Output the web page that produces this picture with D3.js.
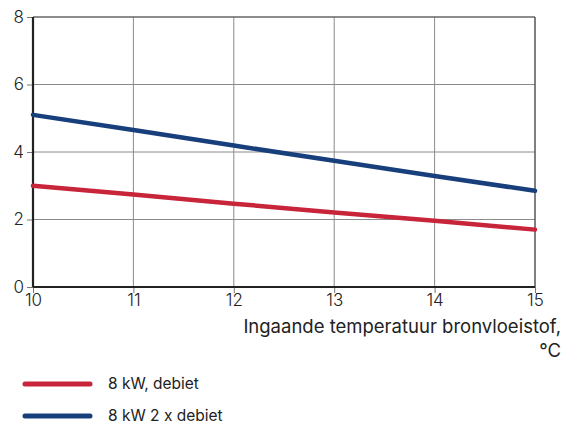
<!DOCTYPE html>
<html>
<head>
<meta charset="utf-8">
<script src="https://cdn.jsdelivr.net/npm/d3@7"></script>
<style>
  body { margin: 0; background: #fff; }
  #chart { width: 569px; height: 427px; }
  text { font-family: Inter, Roboto, sans-serif; fill: #222; }
</style>
</head>
<body>
<div id="chart"></div>
<script>
//Datos
const temps = [10, 11, 12, 13, 14, 15];
const debiet = [3.0, 2.74, 2.47, 2.21, 1.96, 1.7];
const debiet2x = [5.1, 4.65, 4.19, 3.74, 3.29, 2.85];
const xTicks = [10, 11, 12, 13, 14, 15];
const yTicks = [0, 2, 4, 6, 8];
const seriesNames = ['8 kW, debiet', '8 kW 2 x debiet'];

const COLOR_RED = '#c8243a',
COLOR_BLUE = '#173f7c';

let margin = {top: 17, right: 34, bottom: 140, left: 33},
    width = 569 - margin.left - margin.right,
    height = 427 - margin.top - margin.bottom;

let svg = d3.select('#chart')
    .append('svg')
        .attr('width', 569)
        .attr('height', 427)
    .append('g')
        .attr('transform', 'translate(' + margin.left + ',' + margin.top + ')');

let x = d3.scaleLinear().domain([10, 15]).range([0, width]);
let y = d3.scaleLinear().domain([0, 8]).range([height, 0]);

//Rejilla
svg.append('g')
    .selectAll('line')
    .data(xTicks.slice(1, -1))
    .enter()
    .append('line')
    .attr('x1', d => x(d)).attr('x2', d => x(d))
    .attr('y1', 0).attr('y2', height)
    .attr('stroke', '#8a8a8a').attr('stroke-width', 1);

svg.append('g')
    .selectAll('line')
    .data(yTicks.slice(1, -1))
    .enter()
    .append('line')
    .attr('x1', 0).attr('x2', width)
    .attr('y1', d => y(d)).attr('y2', d => y(d))
    .attr('stroke', '#8a8a8a').attr('stroke-width', 1);

//Bordes superior y derecho
svg.append('line')
    .attr('x1', 0).attr('x2', width)
    .attr('y1', y(8)).attr('y2', y(8))
    .attr('stroke', '#666').attr('stroke-width', 1.5);
svg.append('line')
    .attr('x1', x(15)).attr('x2', x(15))
    .attr('y1', 0).attr('y2', height)
    .attr('stroke', '#555').attr('stroke-width', 1.5);

//Ejes
let xAxis = function(g) {
    g.call(d3.axisBottom(x).tickValues(xTicks).tickSize(6).tickPadding(1).tickFormat(d3.format('d')));
    g.call(g => g.select('.domain').remove());
    g.call(g => g.selectAll('.tick line').attr('stroke', '#777'));
    g.call(g => g.selectAll('.tick text').style('font-size', '17px').style('font-weight', 300).attr('fill', '#333'));
}
svg.append('g')
    .attr('transform', 'translate(0,' + height + ')')
    .call(xAxis);

let yAxis = function(g) {
    g.call(d3.axisLeft(y).tickValues(yTicks).tickSize(6).tickPadding(3));
    g.call(g => g.select('.domain').remove());
    g.call(g => g.selectAll('.tick line').attr('stroke', '#777'));
    g.call(g => g.selectAll('.tick text').style('font-size', '17px').style('font-weight', 300).attr('fill', '#333'));
}
svg.append('g').call(yAxis);

svg.append('line')
    .attr('x1', 0).attr('x2', 0)
    .attr('y1', 0).attr('y2', height)
    .attr('stroke', '#222').attr('stroke-width', 2.2);
svg.append('line')
    .attr('x1', 0).attr('x2', width)
    .attr('y1', height).attr('y2', height)
    .attr('stroke', '#222').attr('stroke-width', 2.2);

//Lineas
let line = d3.line()
    .x((d, i) => x(temps[i]))
    .y(d => y(d));

[[debiet, COLOR_RED], [debiet2x, COLOR_BLUE]].forEach(function(s) {
    svg.append('path')
        .datum(s[0])
        .attr('d', line)
        .attr('fill', 'none')
        .attr('stroke', s[1])
        .attr('stroke-width', 4.5)
        .attr('stroke-linecap', 'round');
});

//Titulo eje X
let xTitle = svg.append('text')
    .attr('text-anchor', 'end')
    .style('font-size', '18.5px');
xTitle.append('tspan').attr('x', 528).attr('y', 316).text('Ingaande temperatuur bronvloeistof,');
xTitle.append('tspan').attr('x', 528).attr('y', 340).text('°C');

//Leyenda
let legend = svg.append('g')
    .attr('transform', 'translate(' + (-margin.left) + ',' + (-margin.top) + ')');
[COLOR_RED, COLOR_BLUE].forEach(function(c, i) {
    let g = legend.append('g').attr('transform', 'translate(0,' + (384 + i * 32) + ')');
    g.append('line')
        .attr('x1', 25).attr('x2', 90)
        .attr('stroke', c).attr('stroke-width', 5)
        .attr('stroke-linecap', 'round');
    g.append('text')
        .attr('x', 108).attr('dy', '0.35em')
        .style('font-size', '15.5px')
        .text(seriesNames[i]);
});
</script>
</body>
</html>
